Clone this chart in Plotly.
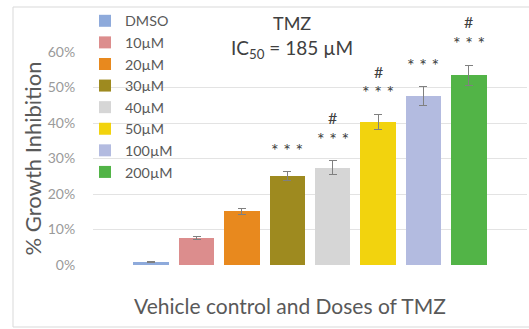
import plotly.graph_objects as go

categories = ["DMSO", "10µM", "20µM", "30µM", "40µM", "50µM", "100µM", "200µM"]
inhibition = [0.009, 0.076, 0.151, 0.250, 0.274, 0.403, 0.475, 0.535]
errors = [0.002, 0.003, 0.009, 0.012, 0.020, 0.021, 0.027, 0.028]
stars = ["", "", "", "* * *", "* * *", "* * *", "* * *", "* * *"]
hashes = ["", "", "", "", "#", "#", "", "#"]
colors = ["#8eaadb", "#dc8d8d", "#e8891e", "#9e8a1f", "#d6d6d6", "#f2d30e", "#b3bbe0", "#52b447"]
ytick_vals = [0, 0.1, 0.2, 0.3, 0.4, 0.5, 0.6]
ytick_text = ["0%", "10%", "20%", "30%", "40%", "50%", "60%"]

FONT = "Lato"
YMAX = 0.6
fig = go.Figure()
for i, (c, v, e, col) in enumerate(zip(categories, inhibition, errors, colors)):
    fig.add_trace(go.Bar(
        x=[c], y=[v], name=c, width=0.78,
        marker=dict(color=col, line=dict(width=0)),
        error_y=dict(type="data", array=[e], color="#808080", thickness=1, width=4),
    ))

for c, v, e, s, h in zip(categories, inhibition, errors, stars, hashes):
    if s:
        fig.add_annotation(x=c, xref="x", yref="paper", y=(v + e + 0.062) / YMAX, text=s,
                           showarrow=False, font=dict(family=FONT, size=18, color="#404040"),
                           xanchor="center", yanchor="middle")
    if h:
        fig.add_annotation(x=c, xref="x", yref="paper", y=(v + e + 0.122) / YMAX, text=h,
                           showarrow=False, font=dict(family=FONT, size=16, color="#404040"),
                           xanchor="center", yanchor="middle")

fig.add_annotation(xref="paper", yref="paper", x=(292 - 93) / 434, y=(265 - 23) / 213,
                   text="TMZ", showarrow=False, xanchor="center", yanchor="middle",
                   font=dict(family=FONT, size=18, color="#404040"))
fig.add_annotation(xref="paper", yref="paper", x=(292 - 93) / 434, y=(265 - 49) / 213,
                   text="IC<sub>50</sub> = 185 µM", showarrow=False, xanchor="center", yanchor="middle",
                   font=dict(family=FONT, size=19, color="#404040"))
fig.add_annotation(xref="paper", yref="paper", x=(290 - 93) / 434, y=(265 - 305) / 213,
                   text="Vehicle control and Doses of TMZ", showarrow=False,
                   xanchor="center", yanchor="middle",
                   font=dict(family=FONT, size=21, color="#595959"))

fig.add_shape(type="rect", xref="paper", yref="paper",
              x0=(13 - 93) / 434, x1=(540 - 93) / 434,
              y0=(265 - 327) / 213, y1=(265 - 7) / 213,
              line=dict(color="#d9d9d9", width=1), layer="below")

fig.update_layout(
    width=529, height=329,
    margin=dict(l=93, r=2, t=52, b=64),
    paper_bgcolor="white", plot_bgcolor="white",
    barmode="overlay", bargap=0,
    showlegend=True,
    legend=dict(x=(85 - 93) / 434, y=(265 - 5) / 213, xanchor="left", yanchor="top",
                bgcolor="rgba(0,0,0,0)", font=dict(family=FONT, size=14.3, color="#595959"),
                tracegroupgap=0, maxheight=1),
    xaxis=dict(type="category", range=[-1.28, 8.28], showticklabels=False, showgrid=False,
               zeroline=False, showline=False, ticks=""),
    yaxis=dict(range=[0, YMAX], tickvals=ytick_vals, ticktext=ytick_text,
               gridcolor="#e3e3e3", gridwidth=1, zeroline=False, showline=False,
               ticks="outside", ticklen=14, tickcolor="rgba(0,0,0,0)",
               tickfont=dict(family=FONT, size=14, color="#9a9a9a"),
               title=dict(text="% Growth Inhibition", font=dict(family=FONT, size=22, color="#595959"),
                          standoff=0)),
    font=dict(family=FONT),
)
fig.write_html("out.html")
